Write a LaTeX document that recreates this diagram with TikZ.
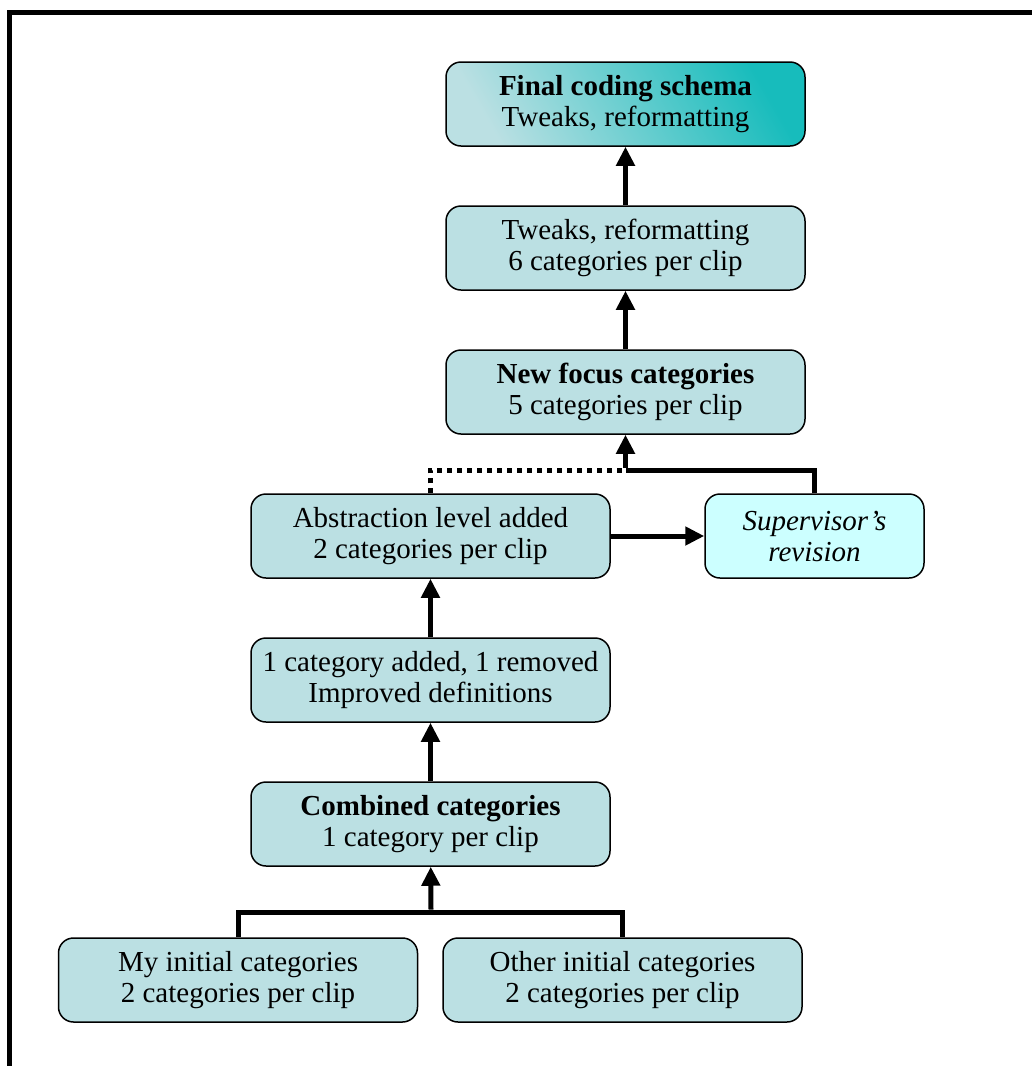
\documentclass[tikz,border=0pt]{standalone}
\usepackage{fontspec}
\setmainfont{Liberation Serif}
\usetikzlibrary{arrows.meta}
\definecolor{boxfill}{HTML}{BBE0E3}
\definecolor{tealdark}{HTML}{17BCBC}
\definecolor{suppfill}{HTML}{CCFFFF}
\begin{document}
\begin{tikzpicture}[x=1pt,y=-1pt,
  stepbox/.style={draw=black, line width=1.5pt, rounded corners=15pt, fill=boxfill,
    minimum width=359pt, minimum height=84pt, align=center, inner sep=0pt,
    font=\fontsize{29}{31}\selectfont},
  suppbox/.style={stepbox, fill=suppfill, minimum width=219pt},
  conn/.style={line width=5pt, -{Triangle[length=19pt,width=18pt]}},
  plain/.style={line width=5pt},
  dotline/.style={line width=5pt, dash pattern=on 5pt off 5pt}
]
\useasboundingbox (0,0) rectangle (1032,1066);
\begin{scope}
\clip (0,0) rectangle (1032,1066);
\draw[line width=4.5pt] (9.7,1080) -- (9.7,12.7) -- (1050,12.7);
\end{scope}

\node[stepbox, shading=axis, left color=boxfill, right color=tealdark, shading angle=120] (final) at (625.5,104) {\textbf{Final coding schema}\\Tweaks, reformatting};
\node[stepbox] (tweaks) at (625.5,248) {Tweaks, reformatting\\6 categories per clip};
\node[stepbox] (focus) at (625.5,392) {\textbf{New focus categories}\\5 categories per clip};
\node[stepbox] (abstr) at (430.5,536) {Abstraction level added\\2 categories per clip};
\node[suppbox] (supp) at (814.5,536) {\textit{Supervisor’s}\\\textit{revision}};
\node[stepbox] (added) at (430.5,680) {1 category added, 1 removed\\Improved definitions};
\node[stepbox] (comb) at (430.5,824) {\textbf{Combined categories}\\1 category per clip};
\node[stepbox] (mine) at (238,980) {My initial categories\\2 categories per clip};
\node[stepbox] (other) at (622.5,980) {Other initial categories\\2 categories per clip};

\coordinate (jtop) at (625.5,470);
\coordinate (jbot) at (431,912);

\draw[conn] (tweaks) -- (final);
\draw[conn] (focus) -- (tweaks);
\draw[dotline] (abstr.north) -- (abstr.north |- jtop) -- (jtop);
\draw[plain] (supp.north) -- (supp.north |- jtop) -- (jtop);
\draw[conn] ([yshift=2.5pt]jtop) -- (focus);
\draw[conn] (abstr) -- (supp);
\draw[conn] (added) -- (abstr);
\draw[conn] (comb) -- (added);
\draw[plain] (mine.north) -- (mine.north |- jbot) -- (other.north |- jbot) -- (other.north);
\draw[conn] ([yshift=2.5pt]jbot) -- (comb);
\end{tikzpicture}
\end{document}
